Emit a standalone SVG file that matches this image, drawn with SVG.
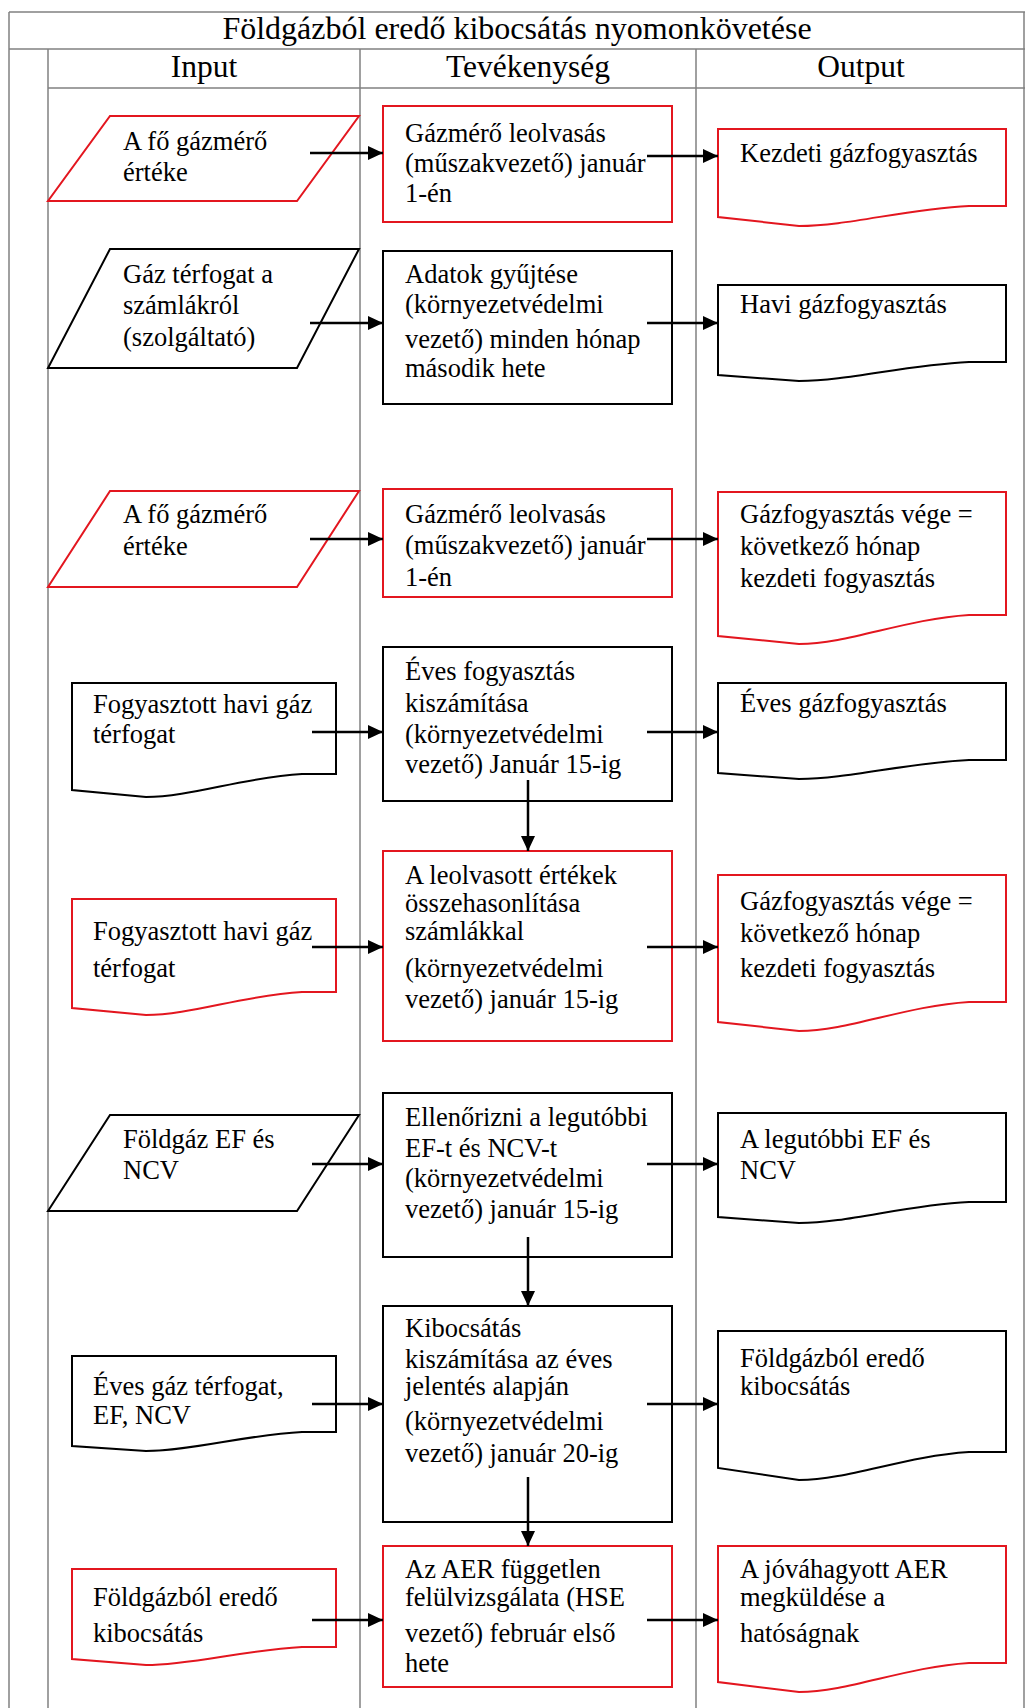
<svg xmlns="http://www.w3.org/2000/svg" width="1025" height="1708" viewBox="0 0 1025 1708">
<style>
  .grid { stroke: #808080; stroke-width: 1.5; fill: none; }
  .red { fill: #ffffff; stroke: #e3161f; stroke-width: 2; }
  .blk { fill: #ffffff; stroke: #000000; stroke-width: 2; }
  .t { font-family: "Liberation Serif", "Times New Roman", serif; font-size: 26.5px; fill: #000; }
  .h { font-family: "Liberation Serif", "Times New Roman", serif; font-size: 31.5px; fill: #000; text-anchor: middle; }
  .c { stroke: #000; stroke-width: 2.5; fill: none; marker-end: url(#ah); }
</style>
<defs>
  <marker id="ah" markerUnits="userSpaceOnUse" markerWidth="16" markerHeight="16" viewBox="0 0 16 16" refX="15" refY="8" orient="auto">
    <path d="M0,1 L15,8 L0,15 Z" fill="#000"/>
  </marker>
</defs>
<rect x="0" y="0" width="1025" height="1708" fill="#ffffff"/>

<g id="table">
  <line class="grid" x1="9" y1="12" x2="1025" y2="12"/>
  <line class="grid" x1="9" y1="49" x2="1025" y2="49"/>
  <line class="grid" x1="48" y1="88" x2="1025" y2="88"/>
  <line class="grid" x1="9" y1="12" x2="9" y2="1708"/>
  <line class="grid" x1="1024" y1="12" x2="1024" y2="1708"/>
  <line class="grid" x1="48" y1="49" x2="48" y2="1708"/>
  <line class="grid" x1="360" y1="49" x2="360" y2="1708"/>
  <line class="grid" x1="696" y1="49" x2="696" y2="1708"/>
  <text class="h" x="517" y="39" style="font-size:32px">Földgázból eredő kibocsátás nyomonkövetése</text>
  <text class="h" x="204" y="77">Input</text>
  <text class="h" x="528" y="77">Tevékenység</text>
  <text class="h" x="861" y="77">Output</text>
</g>

<!-- Row 1 -->
<g id="in1">
  <polygon class="red" points="110,116 359,116 297,201 48,201"/>
  <text class="t"><tspan x="123" y="150">A fő gázmérő</tspan><tspan x="123" y="181">értéke</tspan></text>
</g>
<g id="act1">
  <rect class="red" x="383" y="106" width="289" height="116"/>
  <text class="t"><tspan x="405" y="142">Gázmérő leolvasás</tspan><tspan x="405" y="172">(műszakvezető) január</tspan><tspan x="405" y="202">1-én</tspan></text>
</g>
<g id="out1">
  <path class="red" d="M718,129 H1006 V206 H969 C905,209 848,226 799,226 L718,217 Z"/>
  <text class="t"><tspan x="740" y="162">Kezdeti gázfogyasztás</tspan></text>
</g>

<!-- Row 2 -->
<g id="in2">
  <polygon class="blk" points="110,249 359,249 297,368 48,368"/>
  <text class="t"><tspan x="123" y="283">Gáz térfogat a</tspan><tspan x="123" y="314">számlákról</tspan><tspan x="123" y="346">(szolgáltató)</tspan></text>
</g>
<g id="act2">
  <rect class="blk" x="383" y="251" width="289" height="153"/>
  <text class="t"><tspan x="405" y="283">Adatok gyűjtése</tspan><tspan x="405" y="313">(környezetvédelmi</tspan><tspan x="405" y="348">vezető) minden hónap</tspan><tspan x="405" y="377">második hete</tspan></text>
</g>
<g id="out2">
  <path class="blk" d="M718,285 H1006 V362 H969 C905,365 848,381 799,381 L718,375 Z"/>
  <text class="t"><tspan x="740" y="313">Havi gázfogyasztás</tspan></text>
</g>

<!-- Row 3 -->
<g id="in3">
  <polygon class="red" points="110,491 359,491 297,587 48,587"/>
  <text class="t"><tspan x="123" y="523">A fő gázmérő</tspan><tspan x="123" y="555">értéke</tspan></text>
</g>
<g id="act3">
  <rect class="red" x="383" y="489" width="289" height="108"/>
  <text class="t"><tspan x="405" y="523">Gázmérő leolvasás</tspan><tspan x="405" y="554">(műszakvezető) január</tspan><tspan x="405" y="586">1-én</tspan></text>
</g>
<g id="out3">
  <path class="red" d="M718,492 H1006 V615 H969 C905,619 848,644 799,644 L718,636 Z"/>
  <text class="t"><tspan x="740" y="523">Gázfogyasztás vége =</tspan><tspan x="740" y="555">következő hónap</tspan><tspan x="740" y="587">kezdeti fogyasztás</tspan></text>
</g>

<!-- Row 4 -->
<g id="in4">
  <path class="blk" d="M72,683 H336 V774 H302 C244,777 191,797 146,797 L72,790 Z"/>
  <text class="t"><tspan x="93" y="713">Fogyasztott havi gáz</tspan><tspan x="93" y="743">térfogat</tspan></text>
</g>
<g id="act4">
  <rect class="blk" x="383" y="647" width="289" height="154"/>
  <text class="t"><tspan x="405" y="680">Éves fogyasztás</tspan><tspan x="405" y="712">kiszámítása</tspan><tspan x="405" y="743">(környezetvédelmi</tspan><tspan x="405" y="773">vezető) Január 15-ig</tspan></text>
</g>
<g id="out4">
  <path class="blk" d="M718,683 H1006 V760 H969 C905,763 848,779 799,779 L718,773 Z"/>
  <text class="t"><tspan x="740" y="712">Éves gázfogyasztás</tspan></text>
</g>

<!-- Row 5 -->
<g id="in5">
  <path class="red" d="M72,899 H336 V992 H302 C244,995 191,1015 146,1015 L72,1008 Z"/>
  <text class="t"><tspan x="93" y="940">Fogyasztott havi gáz</tspan><tspan x="93" y="977">térfogat</tspan></text>
</g>
<g id="act5">
  <rect class="red" x="383" y="851" width="289" height="190"/>
  <text class="t"><tspan x="405" y="884">A leolvasott értékek</tspan><tspan x="405" y="912">összehasonlítása</tspan><tspan x="405" y="940">számlákkal</tspan><tspan x="405" y="977">(környezetvédelmi</tspan><tspan x="405" y="1008">vezető) január 15-ig</tspan></text>
</g>
<g id="out5">
  <path class="red" d="M718,875 H1006 V1002 H969 C905,1006 848,1031 799,1031 L718,1022 Z"/>
  <text class="t"><tspan x="740" y="910">Gázfogyasztás vége =</tspan><tspan x="740" y="942">következő hónap</tspan><tspan x="740" y="977">kezdeti fogyasztás</tspan></text>
</g>

<!-- Row 6 -->
<g id="in6">
  <polygon class="blk" points="110,1115 359,1115 297,1211 48,1211"/>
  <text class="t"><tspan x="123" y="1148">Földgáz EF és</tspan><tspan x="123" y="1179">NCV</tspan></text>
</g>
<g id="act6">
  <rect class="blk" x="383" y="1093" width="289" height="164"/>
  <text class="t"><tspan x="405" y="1126">Ellenőrizni a legutóbbi</tspan><tspan x="405" y="1157">EF-t és NCV-t</tspan><tspan x="405" y="1187">(környezetvédelmi</tspan><tspan x="405" y="1218">vezető) január 15-ig</tspan></text>
</g>
<g id="out6">
  <path class="blk" d="M718,1113 H1006 V1202 H969 C905,1205 848,1223 799,1223 L718,1217 Z"/>
  <text class="t"><tspan x="740" y="1148">A legutóbbi EF és</tspan><tspan x="740" y="1179">NCV</tspan></text>
</g>

<!-- Row 7 -->
<g id="in7">
  <path class="blk" d="M72,1356 H336 V1432 H302 C244,1435 191,1451 146,1451 L72,1446 Z"/>
  <text class="t"><tspan x="93" y="1395">Éves gáz térfogat,</tspan><tspan x="93" y="1424">EF, NCV</tspan></text>
</g>
<g id="act7">
  <rect class="blk" x="383" y="1306" width="289" height="216"/>
  <text class="t"><tspan x="405" y="1337">Kibocsátás</tspan><tspan x="405" y="1368">kiszámítása az éves</tspan><tspan x="405" y="1395">jelentés alapján</tspan><tspan x="405" y="1430">(környezetvédelmi</tspan><tspan x="405" y="1462">vezető) január 20-ig</tspan></text>
</g>
<g id="out7">
  <path class="blk" d="M718,1331 H1006 V1452 H969 C905,1456 848,1480 799,1480 L718,1468 Z"/>
  <text class="t"><tspan x="740" y="1367">Földgázból eredő</tspan><tspan x="740" y="1395">kibocsátás</tspan></text>
</g>

<!-- Row 8 -->
<g id="in8">
  <path class="red" d="M72,1569 H336 V1647 H302 C244,1650 191,1665 146,1665 L72,1659 Z"/>
  <text class="t"><tspan x="93" y="1606">Földgázból eredő</tspan><tspan x="93" y="1642">kibocsátás</tspan></text>
</g>
<g id="act8">
  <rect class="red" x="383" y="1546" width="289" height="141"/>
  <text class="t"><tspan x="405" y="1578">Az AER független</tspan><tspan x="405" y="1606">felülvizsgálata (HSE</tspan><tspan x="405" y="1642">vezető) február első</tspan><tspan x="405" y="1672">hete</tspan></text>
</g>
<g id="out8">
  <path class="red" d="M718,1546 H1006 V1663 H969 C905,1667 848,1692 799,1692 L718,1682 Z"/>
  <text class="t"><tspan x="740" y="1578">A jóváhagyott AER</tspan><tspan x="740" y="1606">megküldése a</tspan><tspan x="740" y="1642">hatóságnak</tspan></text>
</g>

<g id="connectors">
  <line class="c" x1="310" y1="153" x2="383" y2="153"/>
  <line class="c" x1="310" y1="323" x2="383" y2="323"/>
  <line class="c" x1="310" y1="539" x2="383" y2="539"/>
  <line class="c" x1="312" y1="732" x2="383" y2="732"/>
  <line class="c" x1="312" y1="947" x2="383" y2="947"/>
  <line class="c" x1="312" y1="1164" x2="383" y2="1164"/>
  <line class="c" x1="312" y1="1404" x2="383" y2="1404"/>
  <line class="c" x1="312" y1="1620" x2="383" y2="1620"/>
  <line class="c" x1="647" y1="156" x2="718" y2="156"/>
  <line class="c" x1="647" y1="323" x2="718" y2="323"/>
  <line class="c" x1="647" y1="539" x2="718" y2="539"/>
  <line class="c" x1="647" y1="732" x2="718" y2="732"/>
  <line class="c" x1="647" y1="947" x2="718" y2="947"/>
  <line class="c" x1="647" y1="1164" x2="718" y2="1164"/>
  <line class="c" x1="647" y1="1404" x2="718" y2="1404"/>
  <line class="c" x1="647" y1="1620" x2="718" y2="1620"/>
  <line class="c" x1="528" y1="780" x2="528" y2="851"/>
  <line class="c" x1="528" y1="1237" x2="528" y2="1306"/>
  <line class="c" x1="528" y1="1477" x2="528" y2="1546"/>
</g>
</svg>
